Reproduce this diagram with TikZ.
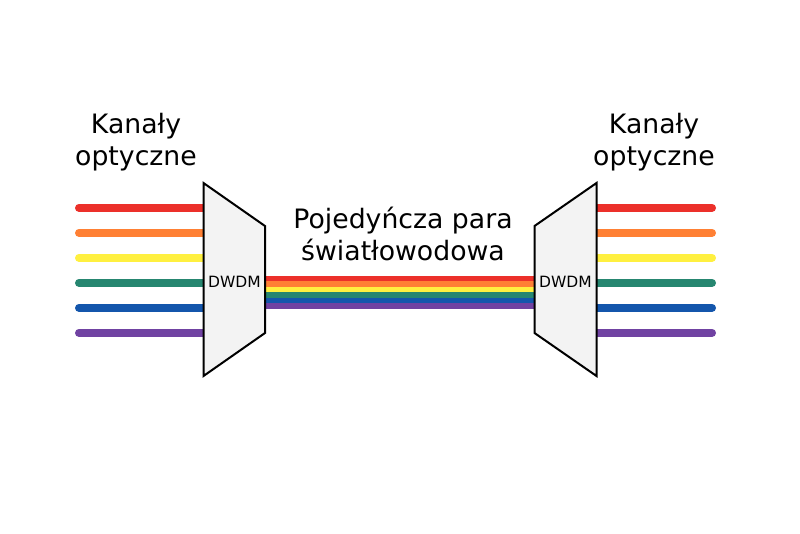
\documentclass[tikz,border=0pt]{standalone}
\usepackage{fontspec}
\setmainfont{DejaVu Sans}
\definecolor{cred}{RGB}{236,48,42}
\definecolor{corange}{RGB}{255,128,52}
\definecolor{cyellow}{RGB}{255,240,64}
\definecolor{cgreen}{RGB}{38,134,112}
\definecolor{cblue}{RGB}{20,86,172}
\definecolor{cpurple}{RGB}{112,66,162}
\definecolor{muxgray}{RGB}{243,243,243}
\begin{document}
\begin{tikzpicture}[x=1pt,y=-1pt,
  chan/.style={line width=8pt, line cap=round},
  band/.style={line width=5.7pt},
  mux/.style={draw=black, line width=2pt, fill=muxgray, line join=miter},
  lbl/.style={font=\fontsize{26.7}{32}\selectfont, align=center, anchor=base, inner sep=0pt},
  dw/.style={font=\fontsize{15.5}{18}\selectfont, inner sep=0pt}]
\useasboundingbox (0,0) rectangle (800,533);
\fill[white] (0,0) rectangle (800,533);
% bundle (single fibre pair)
\foreach \c [count=\i from 0] in {cred,corange,cyellow,cgreen,cblue,cpurple}{
  \coordinate (ba\i) at (255,{278.8+5.5*\i});
  \coordinate (bb\i) at (545,{278.8+5.5*\i});
  \draw[band,\c] (ba\i) -- (bb\i);
}
% channels
\foreach \c [count=\i from 0] in {cred,corange,cyellow,cgreen,cblue,cpurple}{
  \coordinate (la\i) at (79,{207.8+25*\i});
  \coordinate (lb\i) at (225,{207.8+25*\i});
  \coordinate (ra\i) at (575,{207.8+25*\i});
  \coordinate (rb\i) at (712,{207.8+25*\i});
  \draw[chan,\c] (la\i) -- (lb\i);
  \draw[chan,\c] (ra\i) -- (rb\i);
}
% multiplexers
\draw[mux] (203.5,183) -- (265,226) -- (265,333) -- (203.5,376) -- cycle;
\draw[mux] (596.5,183) -- (534.5,226) -- (534.5,333) -- (596.5,376) -- cycle;
\node[dw] (lmux) at (234.5,282) {DWDM};
\node[dw] (rmux) at (565.5,282) {DWDM};
% labels
\node[lbl] (lch) at (136,165.5) {Kanały\\optyczne};
\node[lbl] (rch) at (654,165.5) {Kanały\\optyczne};
\node[lbl] (fib) at (403,260.5) {Pojedyńcza para\\światłowodowa};
\end{tikzpicture}
\end{document}
